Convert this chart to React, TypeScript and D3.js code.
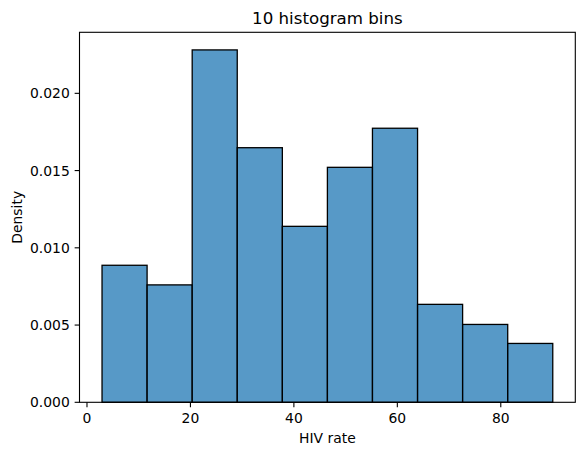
import React from "react";
import * as d3 from "d3";

// Histogram bin edges (HIV rate) and density values
const binEdges = [2.91, 11.62, 20.34, 29.05, 37.77, 46.48, 55.19, 63.91, 72.62, 81.34, 90.05];
const densities = [0.00887, 0.0076, 0.02281, 0.01648, 0.01139, 0.01521, 0.01774, 0.00634, 0.00504, 0.00381];
const xTicks = [0, 20, 40, 60, 80];
const yTicks = [0, 0.005, 0.01, 0.015, 0.02];
const title = "10 histogram bins";
const xLabel = "HIV rate";
const yLabel = "Density";

const W = 584;
const H = 455;
const left = 79.5;
const right = 575.3;
const top = 32.3;
const bottom = 402.3;
const FONT = "DejaVu Sans, sans-serif";

export default function App() {
  const x0 = binEdges[0];
  const x1 = binEdges[binEdges.length - 1];
  const span = x1 - x0;
  const x = d3.scaleLinear().domain([x0 - 0.05 * span, x1 + 0.05 * span]).range([left, right]);
  const yMax = (d3.max(densities) as number) * 1.05;
  const y = d3.scaleLinear().domain([0, yMax]).range([bottom, top]);
  const bars = densities.map((d, i) => ({ x0: binEdges[i], x1: binEdges[i + 1], d }));
  const tickLen = 4.86;
  const fs = 13.9;

  return (
    <svg width={W} height={H} style={{ position: "absolute", left: 0, top: 0, background: "#fff" }} fontFamily={FONT}>
      <rect x={0} y={0} width={W} height={H} fill="#fff" />
      {bars.map((b, i) => (
        <rect
          key={i}
          x={x(b.x0)}
          y={y(b.d)}
          width={x(b.x1) - x(b.x0)}
          height={y(0) - y(b.d)}
          fill="rgba(31,119,180,0.75)"
          stroke="#000"
          strokeWidth={1.3}
        />
      ))}
      {/* spines */}
      <rect x={left} y={top} width={right - left} height={bottom - top} fill="none" stroke="#000" strokeWidth={1.1} />
      {/* x ticks */}
      {xTicks.map((t) => (
        <g key={t} transform={`translate(${x(t)},${bottom})`}>
          <line y1={0} y2={tickLen} stroke="#000" strokeWidth={1.1} />
          <text y={tickLen + 4.86 + fs * 0.78} textAnchor="middle" fontSize={fs} fill="#000">
            {t}
          </text>
        </g>
      ))}
      {/* y ticks */}
      {yTicks.map((t) => (
        <g key={t} transform={`translate(${left},${y(t)})`}>
          <line x1={0} x2={-tickLen} stroke="#000" strokeWidth={1.1} />
          <text x={-tickLen - 4.86} dy="0.36em" textAnchor="end" fontSize={fs} fill="#000">
            {t.toFixed(3)}
          </text>
        </g>
      ))}
      <text x={(left + right) / 2} y={24} textAnchor="middle" fontSize={16.67} fill="#000">
        {title}
      </text>
      <text x={(left + right) / 2} y={443} textAnchor="middle" fontSize={fs} fill="#000">
        {xLabel}
      </text>
      <text
        transform={`translate(${21.5},${(top + bottom) / 2}) rotate(-90)`}
        textAnchor="middle"
        fontSize={fs}
        fill="#000"
      >
        {yLabel}
      </text>
    </svg>
  );
}
